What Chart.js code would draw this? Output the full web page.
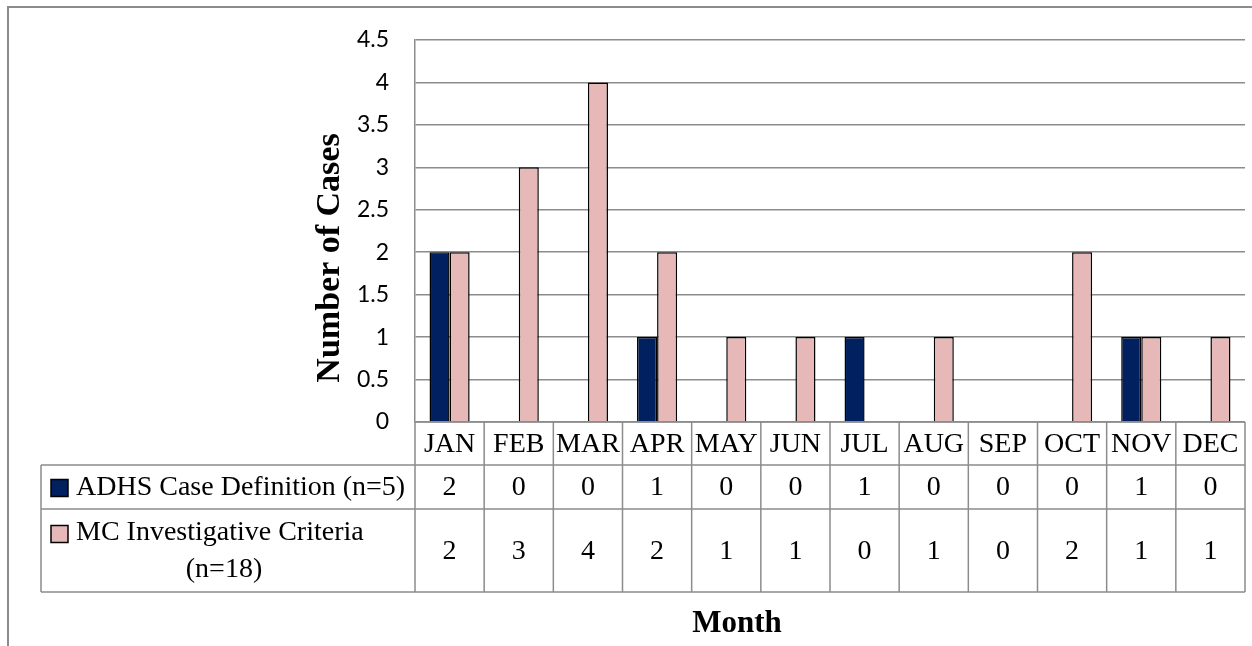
<!DOCTYPE html>
<html>
<head>
<meta charset="utf-8">
<script src="https://cdn.jsdelivr.net/npm/chart.js@4"></script>
<style>
  html, body { margin: 0; padding: 0; background: #fff; }
  #wrap { width: 1252px; height: 646px; }
</style>
</head>
<body>
<div id="wrap"><canvas id="grafico"></canvas></div>
<script>
// dados
const months = ['JAN', 'FEB', 'MAR', 'APR', 'MAY', 'JUN', 'JUL', 'AUG', 'SEP', 'OCT', 'NOV', 'DEC'];
const adhsCases = [2, 0, 0, 1, 0, 0, 1, 0, 0, 0, 1, 0];
const mcCases = [2, 3, 4, 2, 1, 1, 0, 1, 0, 2, 1, 1];
const seriesNames = ['ADHS Case Definition (n=5)', 'MC Investigative Criteria (n=18)'];
const seriesColors = ['#002060', '#E6B9B8'];
const yTicks = [0, 0.5, 1, 1.5, 2, 2.5, 3, 3.5, 4, 4.5];

const serif = '"Liberation Serif", serif';
const gridColor = '#8c8c8c';

// tabela de dados e titulos desenhados a mao
const tablePlugin = {
    id: 'tabela',
    beforeDraw(chart) {
        const c = chart.ctx;
        c.save();
        c.fillStyle = '#fff';
        c.fillRect(0, 0, chart.width, chart.height);
        c.strokeStyle = gridColor;
        c.lineWidth = 2;
        c.beginPath();
        c.moveTo(8, chart.height);
        c.lineTo(8, 7);
        c.lineTo(chart.width, 7);
        c.stroke();
        c.restore();
    },
    afterDraw(chart) {
        const c = chart.ctx;
        const x = chart.scales.x;
        const area = chart.chartArea;
        const colW = (area.right - area.left) / months.length;
        const tableLeft = 41;
        const rows = [area.bottom, 465, 509, 592];

        c.save();
        c.strokeStyle = gridColor;
        c.lineWidth = 1.5;
        c.beginPath();
        // linhas horizontais
        c.moveTo(area.left, rows[0]); c.lineTo(area.right, rows[0]);
        for (let r = 1; r < rows.length; r++) {
            c.moveTo(tableLeft, rows[r]); c.lineTo(area.right, rows[r]);
        }
        // linhas verticais
        for (let i = 0; i <= months.length; i++) {
            const px = area.left + i * colW;
            c.moveTo(px, rows[0]); c.lineTo(px, rows[3]);
        }
        c.moveTo(tableLeft, rows[1]); c.lineTo(tableLeft, rows[3]);
        c.stroke();

        c.fillStyle = '#000';
        c.font = '28px ' + serif;
        c.textAlign = 'center';
        c.textBaseline = 'middle';
        months.forEach((m, i) => {
            const cx = x.getPixelForValue(i);
            c.fillText(m, cx, (rows[0] + rows[1]) / 2 + 1);
            c.fillText(String(adhsCases[i]), cx, (rows[1] + rows[2]) / 2 + 1);
            c.fillText(String(mcCases[i]), cx, (rows[2] + rows[3]) / 2 + 1);
        });

        // legenda dentro da tabela
        const drawKey = (y, color) => {
            c.fillStyle = color;
            c.fillRect(51, y - 8.5, 17, 17);
            c.strokeStyle = '#000';
            c.lineWidth = 1.5;
            c.strokeRect(51, y - 8.5, 17, 17);
        };
        drawKey(488, seriesColors[0]);
        drawKey(534, seriesColors[1]);
        c.fillStyle = '#000';
        c.textAlign = 'left';
        c.fillText(seriesNames[0], 76, 488);
        c.fillText('MC Investigative Criteria', 76, 533);
        c.textAlign = 'center';
        c.fillText('(n=18)', 224, 570);

        // titulos
        c.font = 'bold 31px ' + serif;
        c.fillText('Month', 737, 624);
        c.translate(330, 258);
        c.rotate(-Math.PI / 2);
        c.font = 'bold 34px ' + serif;
        c.fillText('Number of Cases', 0, 0);
        c.restore();
    }
};

const config = {
    type: 'bar',
    data: {
        labels: months,
        datasets: [{
            label: seriesNames[0],
            data: adhsCases,
            backgroundColor: seriesColors[0],
            borderColor: '#000',
            borderWidth: 1.5
        }, {
            label: seriesNames[1],
            data: mcCases,
            backgroundColor: seriesColors[1],
            borderColor: '#000',
            borderWidth: 1.5
        }]
    },
    options: {
        responsive: true,
        maintainAspectRatio: false,
        animation: false,
        categoryPercentage: 0.58,
        barPercentage: 1,
        layout: { padding: { left: 0, top: 40, right: 7, bottom: 224 } },
        plugins: {
            legend: { display: false },
            tooltip: { enabled: false }
        },
        scales: {
            x: { display: false },
            y: {
                min: 0,
                max: 4.5,
                afterFit: s => { s.width = 415; },
                afterBuildTicks: s => { s.ticks = yTicks.map(v => ({ value: v })); },
                ticks: {
                    padding: 26,
                    color: '#000',
                    font: { family: 'Lato', size: 23 },
                    callback: v => String(v)
                },
                grid: { color: gridColor, lineWidth: 1.5, drawTicks: false },
                border: { display: true, color: gridColor, width: 1.5 }
            }
        }
    },
    plugins: [tablePlugin]
};

new Chart(document.getElementById('grafico').getContext('2d'), config);
</script>
</body>
</html>
